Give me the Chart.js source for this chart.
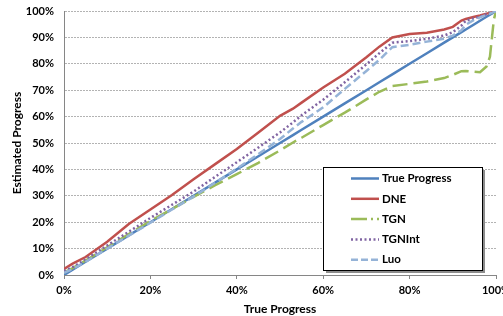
<!DOCTYPE html>
<html>
<head>
<meta charset="utf-8">
<script src="https://cdn.jsdelivr.net/npm/chart.js@4"></script>
<style>
  html, body { margin: 0; padding: 0; background: #fff; }
  #wrap { width: 503px; height: 316px; position: relative; }
</style>
</head>
<body>
<div id="wrap"><canvas id="chart" width="503" height="316"></canvas></div>
<script>
// ====== DATA ======
const progress = [0, 2, 5, 10, 15, 20, 25, 30, 35, 40, 45, 50, 53, 55, 60, 65, 70, 73, 76, 80, 84, 88, 90, 92, 93, 95, 96.3, 97.8, 98.6, 99, 99.5, 100];
const trueProgress = progress.slice();
const dne = [2.3, 4.3, 6.8, 12.6, 19.3, 24.8, 30.3, 36.3, 42, 47.7, 54, 60.3, 63, 65.3, 71, 76.2, 82.5, 86.5, 90, 91.3, 91.8, 93, 94, 96.4, 97, 97.8, 98.3, 99, 99.3, 99.5, 99.8, 100];
const tgn = [1, 2.6, 5.5, 10.5, 15.5, 20.5, 25, 29.6, 34, 38.2, 42.5, 47.2, 50.2, 52, 56.8, 61.5, 66.5, 69.4, 71.6, 72.4, 73.3, 74.6, 75.8, 77.2, 77.3, 77, 76.8, 79, 82.7, 89, 96.7, 100];
const tgnInt = [1.5, 3, 5.9, 11.2, 16.4, 21.6, 26.6, 31.6, 37.2, 42.7, 48.3, 54, 57.8, 60.5, 66.4, 73, 79.8, 84, 88, 88.6, 89.5, 90.7, 92, 94.5, 96.3, 97.2, 97.9, 98.8, 99.2, 99.4, 99.7, 100];
const luo = [0.8, 2.3, 5, 10, 14.9, 19.8, 24.8, 29.7, 35, 40.3, 45.8, 51.5, 55.5, 58, 63.5, 70.5, 77.3, 81.5, 86.3, 87.2, 88.4, 89.5, 90.7, 92.7, 94.8, 96.7, 97.6, 98.6, 99, 99.3, 99.6, 100];

const seriesNames = ["True Progress", "DNE", "TGN", "TGNInt", "Luo"];
const xTicks = [0, 20, 40, 60, 80, 100];
const yTicks = [0, 10, 20, 30, 40, 50, 60, 70, 80, 90, 100];

const FONT = "Lato, 'DejaVu Sans', sans-serif";

function toPoints(ys) {
  return progress.map((x, i) => ({ x: x, y: ys[i] }));
}

// ====== LEGENDA (kotak dengan bayangan) ======
const legendBox = {
  id: "legendBox",
  afterDraw(chart) {
    const ctx = chart.ctx;
    const ca = chart.chartArea;
    const left = ca.right - 173, top = ca.bottom - 108, w = 159, h = 103;
    ctx.save();
    ctx.fillStyle = "#8c8c8c";
    ctx.fillRect(left + 3, top + 3, w, h);
    ctx.fillStyle = "#fff";
    ctx.fillRect(left, top, w, h);
    ctx.strokeStyle = "#000";
    ctx.lineWidth = 1;
    ctx.strokeRect(left + 0.5, top + 0.5, w, h);

    chart.data.datasets.forEach((ds, i) => {
      const y = top + 11.5 + i * 20.3;
      ctx.beginPath();
      ctx.strokeStyle = ds.borderColor;
      ctx.lineWidth = ds.borderWidth;
      ctx.setLineDash(ds.legendDash || []);
      ctx.moveTo(left + 28, y);
      ctx.lineTo(left + 56, y);
      ctx.stroke();
      ctx.setLineDash([]);
      ctx.fillStyle = "#000";
      ctx.font = "bold 11.5px " + FONT;
      ctx.textBaseline = "middle";
      ctx.textAlign = "left";
      ctx.fillText(ds.label, left + 59, y);
    });
    ctx.restore();
  },
};

const ctx = document.getElementById("chart").getContext("2d");
new Chart(ctx, {
  type: "line",
  data: {
    datasets: [
      { label: seriesNames[0], data: toPoints(trueProgress), borderColor: "#4F81BD", borderWidth: 2.5, order: 5 },
      { label: seriesNames[1], data: toPoints(dne), borderColor: "#C0504D", borderWidth: 2.5, order: 4 },
      { label: seriesNames[2], data: toPoints(tgn), borderColor: "#9BBB59", borderWidth: 2.5, borderDash: [15, 6], legendDash: [16, 4, 2, 4], order: 3 },
      { label: seriesNames[3], data: toPoints(tgnInt), borderColor: "#8064A2", borderWidth: 2.5, borderDash: [2, 2.5], legendDash: [2, 2.5], order: 2 },
      { label: seriesNames[4], data: toPoints(luo), borderColor: "#95B3D7", borderWidth: 2.5, borderDash: [8, 4], legendDash: [7, 3], order: 1 },
    ].map((d) => Object.assign({ pointRadius: 0, fill: false, tension: 0 }, d)),
  },
  options: {
    responsive: false,
    animation: false,
    layout: { padding: { left: 0, right: 7, top: 11, bottom: 0 } },
    plugins: { legend: { display: false }, tooltip: { enabled: false } },
    scales: {
      x: {
        type: "linear",
        min: 0,
        max: 100,
        afterBuildTicks: (s) => { s.ticks = xTicks.map((v) => ({ value: v })); },
        afterFit: (s) => { s.height = 41; s.paddingLeft = 0; s.paddingRight = 0; },
        grid: { drawOnChartArea: false, drawTicks: true, tickLength: 4, color: "#868686" },
        border: { color: "#868686", width: 1 },
        ticks: {
          padding: 5,
          color: "#000",
          font: { family: FONT, size: 11, weight: "bold" },
          callback: (v) => v + "%",
        },
        title: {
          display: true,
          text: "True Progress",
          color: "#000",
          font: { family: FONT, size: 12, weight: "bold" },
          padding: { top: 4, bottom: 0 },
        },
      },
      y: {
        min: 0,
        max: 100,
        afterBuildTicks: (s) => { s.ticks = yTicks.map((v) => ({ value: v })); },
        afterFit: (s) => { s.width = 64; s.paddingTop = 0; s.paddingBottom = 0; },
        grid: { drawTicks: false, color: (c) => (c.tick && c.tick.value === 0 ? "rgba(0,0,0,0)" : "#b3b3b3"), lineWidth: 1 },
        border: { color: "#868686", width: 1, dash: [2, 1] },
        ticks: {
          padding: 10,
          color: "#000",
          font: { family: FONT, size: 11, weight: "bold" },
          callback: (v) => v + "%",
        },
        title: {
          display: true,
          text: "Estimated Progress",
          color: "#000",
          font: { family: FONT, size: 12, weight: "bold" },
          padding: { top: 9.5, bottom: 0 },
        },
      },
    },
  },
  plugins: [legendBox],
});
</script>
</body>
</html>
